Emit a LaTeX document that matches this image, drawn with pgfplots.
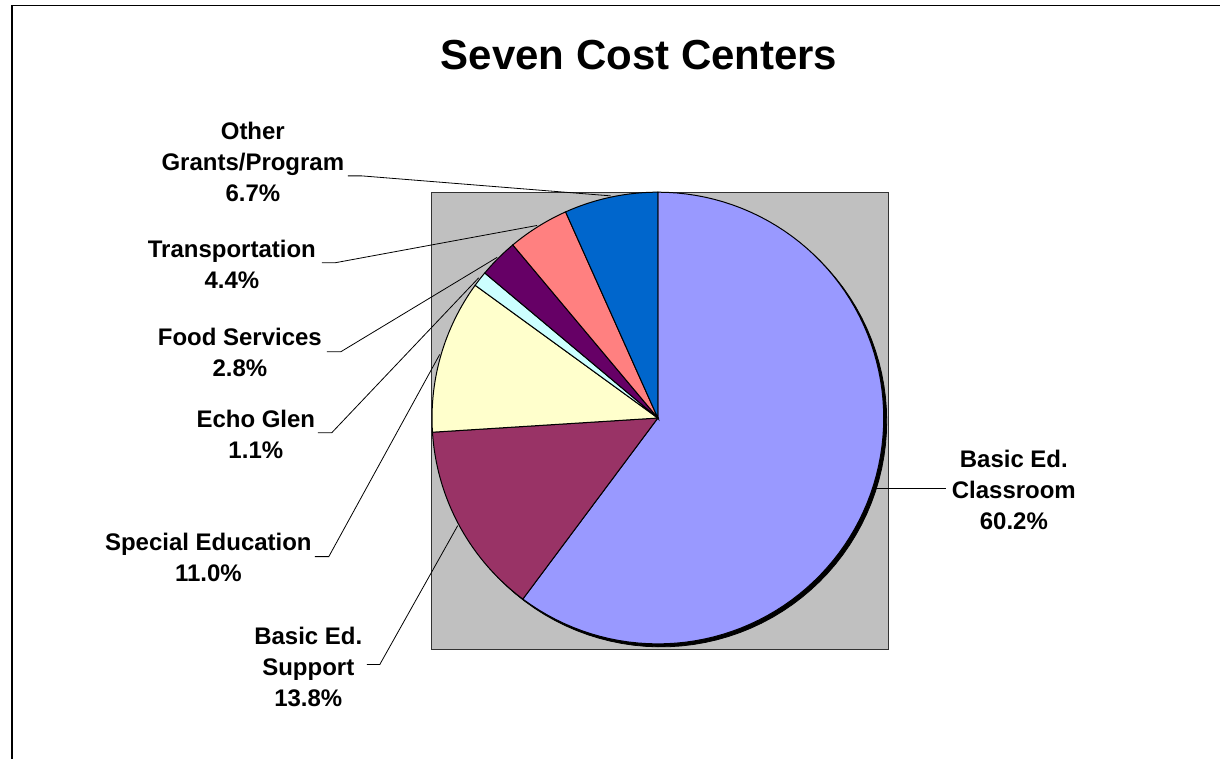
\documentclass[border=0pt]{standalone}
\usepackage{fontspec}
\setmainfont{Liberation Sans}
\usepackage{pgfplots}
\pgfplotsset{compat=1.18}
\definecolor{cClass}{HTML}{9999FF}
\definecolor{cSupp}{HTML}{993366}
\definecolor{cSpec}{HTML}{FFFFCC}
\definecolor{cEcho}{HTML}{CCFFFF}
\definecolor{cFood}{HTML}{660066}
\definecolor{cTrans}{HTML}{FF8080}
\definecolor{cOther}{HTML}{0066CC}
\definecolor{cBg}{HTML}{C0C0C0}
% shares in percent
\def\vClass{60.2}
\def\vSupp{13.8}
\def\vSpec{11.0}
\def\vEcho{1.1}
\def\vFood{2.8}
\def\vTrans{4.4}
\def\vOther{6.7}
\pgfmathsetmacro{\aA}{90}
\pgfmathsetmacro{\aB}{\aA-3.6*\vClass}
\pgfmathsetmacro{\aC}{\aB-3.6*\vSupp}
\pgfmathsetmacro{\aD}{\aC-3.6*\vSpec}
\pgfmathsetmacro{\aE}{\aD-3.6*\vEcho}
\pgfmathsetmacro{\aF}{\aE-3.6*\vFood}
\pgfmathsetmacro{\aG}{\aF-3.6*\vTrans}
\pgfmathsetmacro{\aH}{\aG-3.6*\vOther}
\def\cx{658.3}
\def\cy{418.3}
\def\R{226}
\newcommand{\slice}[3]{%
  \addplot[fill=#3, draw=black, line width=0.5pt, domain=#1:#2, samples=90]
    ({\cx+\R*cos(x)},{\cy-\R*sin(x)}) -- (axis cs:\cx,\cy) -- cycle;}
\tikzset{lbl/.style={font=\fontsize{12}{15.5}\selectfont\bfseries, align=center, inner sep=0pt}}
\begin{document}
\begin{tikzpicture}
\begin{axis}[width=610.5pt,height=379.5pt,scale only axis,
  xmin=0,xmax=1221,ymin=0,ymax=759,y dir=reverse,hide axis,clip=false]
\path (axis cs:0,0) rectangle (axis cs:1221,759);
\draw[line width=0.8pt] (axis cs:12.3,759) -- (axis cs:12.3,5.7) -- (axis cs:1221,5.7);
\node[font=\fontsize{21}{25}\selectfont\bfseries] at (axis cs:639.5,55) {Seven Cost Centers};
\filldraw[fill=cBg, draw=gray!40!black, line width=0.6pt] (axis cs:431.7,192.7) rectangle (axis cs:889,650);
% shadow
\addplot[fill=black, draw=black, domain=0:360, samples=120] ({\cx+3+\R*cos(x)},{\cy+3-\R*sin(x)}) -- cycle;
\slice{\aB}{\aA}{cClass}
\slice{\aC}{\aB}{cSupp}
\slice{\aD}{\aC}{cSpec}
\slice{\aE}{\aD}{cEcho}
\slice{\aF}{\aE}{cFood}
\slice{\aG}{\aF}{cTrans}
\slice{\aH}{\aG}{cOther}
% leader lines
\draw[line width=0.4pt] (axis cs:348,176) -- (axis cs:362,176) -- (axis cs:611,196);
\draw[line width=0.4pt] (axis cs:322,263) -- (axis cs:335,263) -- (axis cs:537.5,225.6);
\draw[line width=0.4pt] (axis cs:327,352) -- (axis cs:341,352) -- (axis cs:497.5,257.5);
\draw[line width=0.4pt] (axis cs:318,433) -- (axis cs:332,433) -- (axis cs:479,278);
\draw[line width=0.4pt] (axis cs:315,557) -- (axis cs:329,557) -- (axis cs:440,354.7);
\draw[line width=0.4pt] (axis cs:367,665) -- (axis cs:380,665) -- (axis cs:458,526);
\draw[line width=0.4pt] (axis cs:873,489) -- (axis cs:947,489);
% labels
\node[lbl] at (axis cs:253,162) {Other\\Grants/Program\\6.7\%};
\node[lbl] at (axis cs:232,265) {Transportation\\4.4\%};
\node[lbl] at (axis cs:240,353) {Food Services\\2.8\%};
\node[lbl] at (axis cs:256,435) {Echo Glen\\1.1\%};
\node[lbl] at (axis cs:208.5,558) {Special Education\\11.0\%};
\node[lbl] at (axis cs:308.5,667) {Basic Ed.\\Support\\13.8\%};
\node[lbl] at (axis cs:1014.5,490) {Basic Ed.\\Classroom\\60.2\%};
\end{axis}
\end{tikzpicture}
\end{document}
